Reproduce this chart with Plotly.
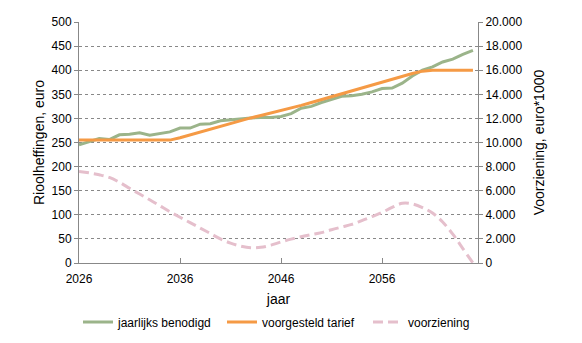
import plotly.graph_objects as go

years = list(range(2026, 2066))
benodigd = [245, 252, 258, 256, 266, 267, 270, 265, 269, 272,
            280, 280, 288, 289, 295, 297, 300, 301, 302, 302,
            304, 310, 321, 325, 333, 340, 346, 347, 350, 355,
            362, 363, 373, 388, 400, 407, 417, 423, 433, 441]
tarief = [255, 255, 255, 255, 255, 255, 255, 255, 255, 255,
          260, 266, 272, 278, 284, 290, 296, 301, 306, 311,
          316, 321, 327, 333, 339, 345, 351, 358, 364, 370,
          375, 381, 387, 393, 398, 400, 400, 400, 400, 400]
voorziening = [7600, 7480, 7320, 7100, 6700, 6200, 5720, 5250, 4750, 4250,
               3800, 3350, 2900, 2450, 2000, 1650, 1400, 1260, 1300, 1480,
               1750, 1980, 2180, 2350, 2520, 2760, 2980, 3200, 3520, 3850,
               4200, 4620, 4950, 4900, 4600, 4150, 3400, 2400, 1200, 0]

font = "Liberation Sans, Arial, sans-serif"
fig = go.Figure()
fig.add_trace(go.Scatter(x=years, y=benodigd, name="jaarlijks benodigd", mode="lines",
                         line=dict(color="#9BB48A", width=3), legend="legend"))
fig.add_trace(go.Scatter(x=years, y=tarief, name="voorgesteld tarief", mode="lines",
                         line=dict(color="#F59A45", width=3), legend="legend2"))
fig.add_trace(go.Scatter(x=years, y=voorziening, name="voorziening", mode="lines", yaxis="y2",
                         line=dict(color="#E5BFCC", width=3, dash="10px,5px", shape="spline"),
                         legend="legend3"))

def leg(xpx):
    return dict(orientation="h", xref="container", x=xpx / 582, xanchor="left",
                yref="container", y=1 - 322 / 343, yanchor="middle",
                font=dict(size=12), itemwidth=30, bgcolor="rgba(0,0,0,0)")

fig.update_layout(
    width=582, height=343, margin=dict(l=79, r=104, t=22, b=80, autoexpand=False),
    paper_bgcolor="white", plot_bgcolor="white",
    font=dict(family=font, size=12, color="#000000"),
    separators=",.",
    showlegend=True,
    legend=leg(78), legend2=leg(222), legend3=leg(368),
    xaxis=dict(range=[2026, 2065.5], tickvals=[2026, 2036, 2046, 2056], tickformat="d",
               showgrid=False, zeroline=False, showline=True, linecolor="#888888", linewidth=1,
               ticks="inside", ticklen=5, tickcolor="#888888", ticklabelstandoff=5,
               title=dict(text="jaar", standoff=18)),
    yaxis=dict(range=[0, 500], dtick=50, showgrid=True, gridcolor="#888888", griddash="dot",
               gridwidth=1, zeroline=False, showline=True, linecolor="#888888",
               ticks="outside", ticklen=4, tickcolor="#888888",
               title=dict(text="Rioolheffingen, euro", standoff=3)),
    yaxis2=dict(range=[0, 20000], dtick=2000, overlaying="y", side="right", anchor="x",
                tickformat=",.0f", showgrid=False, zeroline=False, showline=True,
                linecolor="#888888", ticks="outside", ticklen=4, tickcolor="#888888",
                title=dict(text="Voorziening, euro*1000", standoff=12)),
)
fig.write_html("out.html")
